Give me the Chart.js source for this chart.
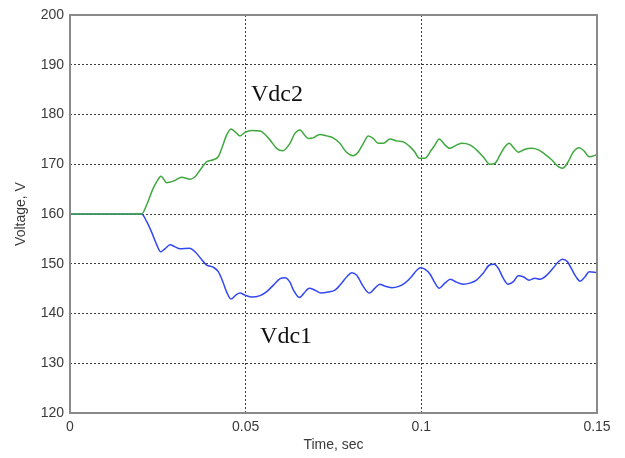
<!DOCTYPE html>
<html>
<head>
<meta charset="utf-8">
<script src="https://cdn.jsdelivr.net/npm/chart.js@4/dist/chart.umd.min.js"></script>
<style>
  html, body { margin: 0; padding: 0; background: #ffffff; }
  #wrap { width: 625px; height: 458px; position: relative; }
</style>
</head>
<body>
<div id="wrap"><canvas id="c" width="625" height="458"></canvas></div>
<script>
// Time samples (s) and voltages (V)
const tVdc2 = [0, 0.0204, 0.0218, 0.0237, 0.0247, 0.0259, 0.0275, 0.0294, 0.0318, 0.0342,
  0.0356, 0.037, 0.0389, 0.0408, 0.0422, 0.0432, 0.0446, 0.0458, 0.047, 0.0484,
  0.0498, 0.0517, 0.0541, 0.0569, 0.0588, 0.0605, 0.0626, 0.064, 0.0655, 0.0664,
  0.0678, 0.0692, 0.0711, 0.0731, 0.0749, 0.0768, 0.0787, 0.0806, 0.082, 0.0835,
  0.0849, 0.0863, 0.0877, 0.0892, 0.0911, 0.093, 0.0949, 0.0968, 0.0982, 0.0994,
  0.101, 0.1029, 0.1039, 0.1051, 0.1067, 0.1081, 0.1096, 0.1115, 0.1138, 0.1157,
  0.1176, 0.1195, 0.121, 0.1224, 0.1238, 0.125, 0.1264, 0.1276, 0.1295, 0.1314,
  0.1333, 0.1352, 0.1371, 0.139, 0.1402, 0.1418, 0.1432, 0.1449, 0.1463, 0.1478,
  0.15];
const vdc2 = [160, 160, 161.8, 165.2, 166.5, 167.6, 166.3, 166.6, 167.4, 167.0,
  167.5, 168.8, 170.5, 170.9, 171.5, 173.2, 175.9, 177.1, 176.5, 175.7,
  176.4, 176.8, 176.7, 174.9, 173.2, 172.7, 174.2, 176.2, 176.9, 176.2,
  175.2, 175.3, 176.0, 175.7, 175.3, 174.2, 172.4, 171.7, 172.4, 174.2,
  175.7, 175.2, 174.2, 174.2, 175.1, 174.7, 174.5, 173.5, 172.4, 171.2,
  171.2, 172.9, 173.9, 175.1, 173.9, 173.2, 173.7, 174.2, 173.9, 172.9,
  171.5, 170.0, 170.2, 171.9, 173.5, 174.2, 173.2, 172.4, 173.0, 173.2,
  172.9, 172.0, 170.9, 169.5, 169.2, 170.5, 172.4, 173.3, 172.7, 171.5,
  171.9];

const tVdc1 = [0, 0.0204, 0.0218, 0.0232, 0.0247, 0.0258, 0.027, 0.0285, 0.0299, 0.0313,
  0.034, 0.0356, 0.0375, 0.0389, 0.0408, 0.0422, 0.0435, 0.0446, 0.0458, 0.0472,
  0.0484, 0.0498, 0.0517, 0.0541, 0.056, 0.0579, 0.0598, 0.0612, 0.0626, 0.0636,
  0.0653, 0.0666, 0.0681, 0.0697, 0.0714, 0.0735, 0.0754, 0.0773, 0.0788, 0.0802,
  0.0816, 0.0835, 0.0852, 0.0868, 0.0882, 0.0896, 0.0916, 0.0934, 0.0953, 0.0972,
  0.0987, 0.0998, 0.101, 0.1025, 0.1039, 0.1051, 0.1067, 0.1083, 0.11, 0.1119,
  0.1138, 0.1157, 0.1176, 0.1193, 0.1207, 0.1219, 0.1233, 0.1247, 0.1262, 0.1276,
  0.129, 0.1307, 0.1323, 0.1338, 0.1357, 0.1376, 0.139, 0.1402, 0.1416, 0.1428,
  0.144, 0.1452, 0.1466, 0.1478, 0.15];
const vdc1 = [160, 160, 158.5, 156.4, 153.8, 152.4, 153.0, 153.8, 153.4, 153.0,
  153.1, 152.4, 150.8, 149.7, 149.3, 148.4, 146.4, 144.3, 142.9, 143.7,
  144.1, 143.7, 143.3, 143.6, 144.4, 145.7, 147.0, 147.2, 146.3, 144.7,
  143.2, 144.1, 145.1, 144.7, 144.1, 144.3, 144.7, 146.1, 147.4, 148.2,
  147.7, 145.4, 144.1, 145.1, 145.9, 145.5, 145.2, 145.4, 146.1, 147.4,
  148.7, 149.2, 148.9, 147.9, 146.1, 145.1, 146.1, 146.9, 146.3, 145.9,
  146.1, 146.7, 148.1, 149.7, 149.9, 149.1, 147.1, 145.9, 146.4, 147.6,
  147.4, 146.7, 147.1, 146.9, 147.7, 149.2, 150.4, 150.9, 150.4, 148.9,
  147.4, 146.5, 147.4, 148.4, 148.2];

const xTicks = [0, 0.05, 0.1, 0.15];
const xTickLabels = ['0', '0.05', '0.1', '0.15'];
const yTicks = [120, 130, 140, 150, 160, 170, 180, 190, 200];

// Text labels placed in data coordinates
const curveLabels = [
  { text: 'Vdc2', x: 0.0515, y: 182.8 },
  { text: 'Vdc1', x: 0.0541, y: 134.1 }
];

const toPts = (ts, vs) => ts.map((t, i) => ({ x: t, y: vs[i] }));

const labelPlugin = {
  id: 'curveLabels',
  afterDatasetsDraw(chart) {
    const { ctx, scales } = chart;
    ctx.save();
    ctx.font = '24px "Liberation Serif", "Times New Roman", serif';
    ctx.fillStyle = '#111111';
    ctx.textAlign = 'left';
    ctx.textBaseline = 'alphabetic';
    curveLabels.forEach(l => {
      ctx.fillText(l.text, scales.x.getPixelForValue(l.x), scales.y.getPixelForValue(l.y));
    });
    ctx.restore();
  }
};

const boxPlugin = {
  id: 'box',
  afterDraw(chart) {
    const { ctx, chartArea: a } = chart;
    ctx.save();
    ctx.strokeStyle = '#8a8a8a';
    ctx.lineWidth = 2;
    ctx.setLineDash([]);
    ctx.strokeRect(a.left, a.top, a.right - a.left, a.bottom - a.top);
    ctx.restore();
  }
};

const bgPlugin = {
  id: 'bg',
  beforeDraw(chart) {
    const { ctx } = chart;
    ctx.save();
    ctx.fillStyle = '#ffffff';
    ctx.fillRect(0, 0, chart.width, chart.height);
    ctx.restore();
  }
};

const tickFont = { family: '"Liberation Sans", Arial, sans-serif', size: 14 };

new Chart(document.getElementById('c'), {
  type: 'line',
  data: {
    datasets: [
      {
        label: 'Vdc2',
        data: toPts(tVdc2, vdc2),
        borderColor: '#3fa83f',
        borderWidth: 1.5,
        pointRadius: 0,
        cubicInterpolationMode: 'monotone',
        fill: false
      },
      {
        label: 'Vdc1',
        data: toPts(tVdc1, vdc1),
        borderColor: '#3347f0',
        borderWidth: 1.5,
        pointRadius: 0,
        cubicInterpolationMode: 'monotone',
        fill: false
      }
    ]
  },
  options: {
    responsive: false,
    animation: false,
    layout: { padding: { top: 15, right: 28, bottom: 0, left: 0 } },
    plugins: { legend: { display: false }, tooltip: { enabled: false } },
    scales: {
      x: {
        type: 'linear',
        min: 0,
        max: 0.15,
        afterFit(s) { s.height = 45; },
        afterBuildTicks(s) { s.ticks = xTicks.map(v => ({ value: v })); },
        ticks: {
          padding: 6,
          color: '#3a3a3a',
          font: tickFont,
          maxRotation: 0,
          callback: (v) => {
            const i = xTicks.findIndex(t => Math.abs(t - v) < 1e-9);
            return i >= 0 ? xTickLabels[i] : '';
          }
        },
        grid: {
          color: '#3c3c3c',
          lineWidth: 1,
          drawTicks: false
        },
        border: { display: false, dash: [2, 2] },
        title: {
          display: true,
          text: 'Time, sec',
          color: '#3a3a3a',
          font: tickFont,
          padding: { top: 0, bottom: 4 }
        }
      },
      y: {
        type: 'linear',
        min: 120,
        max: 200,
        afterFit(s) { s.width = 70; },
        afterBuildTicks(s) { s.ticks = yTicks.map(v => ({ value: v })); },
        ticks: {
          padding: 6,
          color: '#3a3a3a',
          font: tickFont
        },
        grid: {
          color: '#3c3c3c',
          lineWidth: 1,
          drawTicks: false
        },
        border: { display: false, dash: [2, 2] },
        title: {
          display: true,
          text: 'Voltage, V',
          color: '#3a3a3a',
          font: tickFont,
          padding: { top: 13, bottom: 0 }
        }
      }
    }
  },
  plugins: [bgPlugin, labelPlugin, boxPlugin]
});
</script>
</body>
</html>
